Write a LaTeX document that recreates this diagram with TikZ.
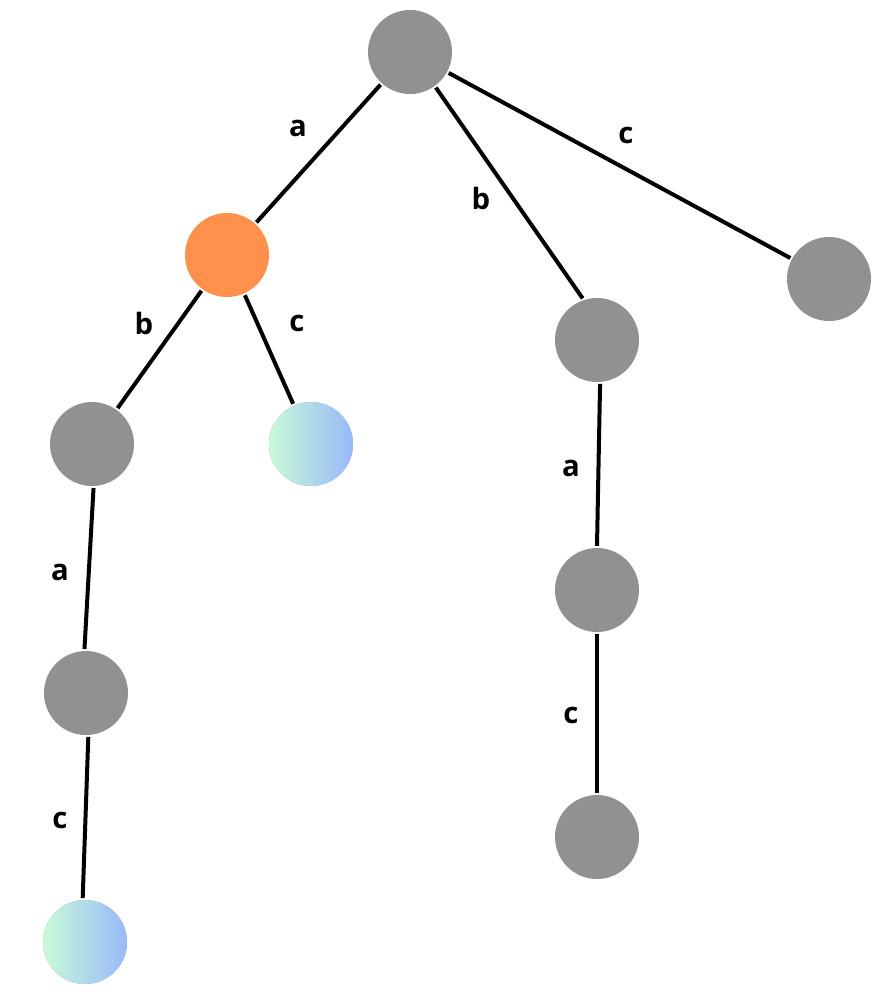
\documentclass[tikz,border=0pt]{standalone}
\usepackage{fontspec}
\setmainfont{Open Sans}
\usepackage{tikz}
\usetikzlibrary{positioning}
\definecolor{nodegray}{HTML}{919191}
\definecolor{hitorange}{HTML}{FF914D}
\definecolor{leafmint}{HTML}{C9FAD8}
\definecolor{leafblue}{HTML}{98B9FA}
\tikzset{vtx/.style={draw=none,circle,inner sep=0pt,minimum size=63pt,fill=nodegray},
         hit/.style={vtx,fill=hitorange},
         leaf/.style={vtx,shading=axis,left color=leafmint,right color=leafblue},
         lbl/.style={font=\fontsize{22}{24}\selectfont\bfseries}}

\begin{document}
\begin{tikzpicture}[x=0.75pt,y=-0.75pt,line width=3pt]
        \useasboundingbox (0,0) rectangle (888,996);
        %Nodes
        \node[vtx] (r) at (410,52) {};
        \node[hit] (ra) at (227,255) {};
        \node[vtx] (rb) at (597,340) {};
        \node[vtx] (rc) at (829,279) {};
        \node[vtx] (rab) at (92,444) {};
        \node[leaf] (rac) at (311,444) {};
        \node[vtx] (raba) at (86,693) {};
        \node[leaf] (rabac) at (85,942) {};
        \node[vtx] (rba) at (597,590) {};
        \node[vtx] (rbac) at (597,837) {};
        %Edges
        \draw (r) -- (ra);
        \draw (r.-54) -- (rb.109);
        \draw (r) -- (rc);
        \draw (ra) -- (rab);
        \draw (ra) -- (rac);
        \draw (rab.-88) -- (raba.92);
        \draw (raba.-87) -- (rabac.93);
        \draw (rb.-86) -- (rba.90);
        \draw (rba) -- (rbac);
        %Labels
        \path (298,128)node[lbl](l1){a} (481,198)node[lbl](l2){b} (626,135)node[lbl](l3){c}
              (144,323)node[lbl](l4){b} (297,323)node[lbl](l5){c}
              (60,572)node[lbl](l6){a} (60,820)node[lbl](l7){c}
              (571,468)node[lbl](l8){a} (571,715)node[lbl](l9){c};
\end{tikzpicture}
\end{document}
